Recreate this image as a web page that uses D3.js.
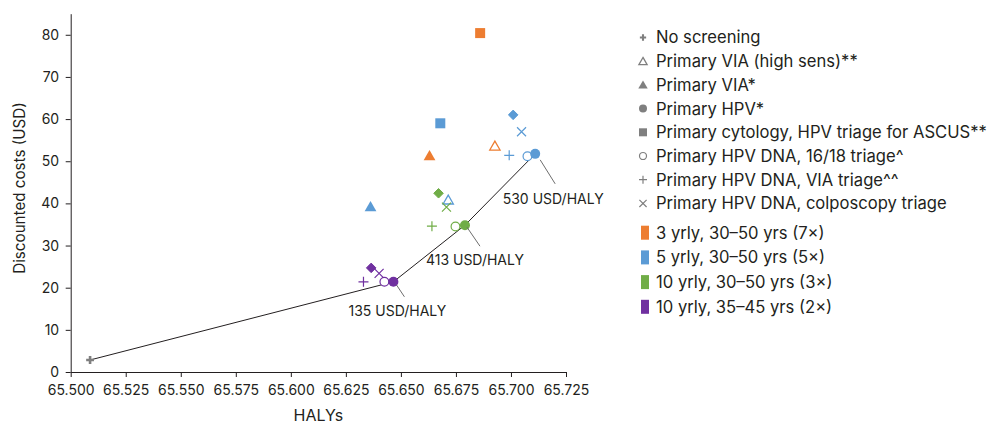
<!DOCTYPE html>
<html>
<head>
<meta charset="utf-8">
<script src="https://cdn.jsdelivr.net/npm/d3@7"></script>
<style>
  html, body { margin: 0; padding: 0; background: #fff; }
  svg text { font-family: Inter, "Noto Sans", sans-serif; fill: #231f20; }
</style>
</head>
<body>
<svg id="chart" width="995" height="427"></svg>
<script>
// Screening strategies (legend order) and their symbol keys
const strategyLabels = [
  "No screening",
  "Primary VIA (high sens)**",
  "Primary VIA*",
  "Primary HPV*",
  "Primary cytology, HPV triage for ASCUS**",
  "Primary HPV DNA, 16/18 triage^",
  "Primary HPV DNA, VIA triage^^",
  "Primary HPV DNA, colposcopy triage"
];
const strategyKeys = ["noScreen", "viaHigh", "via", "hpv", "cyto", "hpv1618", "hpvVia", "hpvColpo"];

// Screening schedules
const scheduleLabels = [
  "3 yrly, 30–50 yrs (7×)",
  "5 yrly, 30–50 yrs (5×)",
  "10 yrly, 30–50 yrs (3×)",
  "10 yrly, 35–45 yrs (2×)"
];

// Outcomes per schedule: strategy key, HALYs, discounted cost (USD)
const noScreenHaly = 65.5088, noScreenCost = 2.85;

const yr3Strategy = ["cyto", "via", "viaHigh"];
const yr3Haly = [65.6860, 65.6630, 65.6927];
const yr3Cost = [80.4, 51.3, 53.6];

const yr5Strategy = ["via", "cyto", "hpvAlt", "hpvColpo", "viaHigh", "hpvVia", "hpv1618", "hpv"];
const yr5Haly = [65.6362, 65.6679, 65.7010, 65.7048, 65.6715, 65.6992, 65.7075, 65.7110];
const yr5Cost = [39.2, 59.0, 61.0, 57.0, 40.8, 51.4, 51.2, 51.75];

const yr10Strategy = ["hpvAlt", "hpvColpo", "hpvVia", "hpv1618", "hpv"];
const yr10Haly = [65.6671, 65.6707, 65.6641, 65.6748, 65.6791];
const yr10Cost = [42.4, 39.1, 34.6, 34.5, 34.83];

const yr10nStrategy = ["hpvAlt", "hpvColpo", "hpvVia", "hpv1618", "hpv"];
const yr10nHaly = [65.6365, 65.6401, 65.6330, 65.6425, 65.6466];
const yr10nCost = [24.7, 23.4, 21.4, 21.4, 21.4];

// Efficiency frontier and its ICER labels
const frontierHaly = [noScreenHaly, 65.6466, 65.6791, 65.7110];
const frontierCost = [noScreenCost, 21.4, 34.83, 51.75];
const icerLabels = ["135 USD/HALY", "413 USD/HALY", "530 USD/HALY"];

// Axis ticks
const xTicks = [65.500, 65.525, 65.550, 65.575, 65.600, 65.625, 65.650, 65.675, 65.700, 65.725];
const yTicks = [0, 10, 20, 30, 40, 50, 60, 70, 80];

// ---- styling ----
const palette = ["#ED7D31", "#5B9BD5", "#70AD47", "#7030A0"];
const grey = "#7f7f7f";
const inkLine = "#231f20";

const svg = d3.select("#chart");

const x = d3.scaleLinear().domain([65.5, 65.725]).range([70.7, 566]);
const y = d3.scaleLinear().domain([0, 85]).range([372, 13.7]);

// axes
const xAxis = svg.append("g")
  .attr("transform", `translate(0,${y(0)})`)
  .call(d3.axisBottom(x).tickValues(xTicks).tickFormat(d3.format(".3f")).tickSize(5).tickSizeOuter(0));
const yAxis = svg.append("g")
  .attr("transform", `translate(${x(65.5)},0)`)
  .call(d3.axisLeft(y).tickValues(yTicks).tickFormat(d3.format("d")).tickSize(5).tickSizeOuter(0));

[xAxis, yAxis].forEach(g => {
  g.selectAll("path, line").attr("stroke", inkLine).attr("stroke-width", 1);
  g.selectAll("text").attr("font-size", 14).attr("fill", "#231f20")
    .style("font-family", "Inter, 'Noto Sans', sans-serif");
});
xAxis.selectAll("text").attr("dy", "1.05em");
yAxis.selectAll("text").attr("dx", "-0.25em");

svg.append("text").attr("x", (x(65.5) + x(65.725)) / 2).attr("y", 421)
  .attr("text-anchor", "middle").attr("font-size", 16).text("HALYs");
svg.append("text")
  .attr("transform", `translate(25,188) rotate(-90)`)
  .attr("text-anchor", "middle").attr("font-size", 15.2).text("Discounted costs (USD)");

// frontier line
const line = d3.line().x(d => x(d[0])).y(d => y(d[1]));
svg.append("path")
  .datum(frontierHaly.map((h, i) => [h, frontierCost[i]]))
  .attr("d", line).attr("fill", "none").attr("stroke", inkLine).attr("stroke-width", 1);

// symbol drawing
function drawSymbol(g, key, color, scale) {
  const s = scale || 1;
  switch (key) {
    case "noScreen":
      g.append("path").attr("d", d3.symbol(d3.symbolCross, 34 * s * s)()).attr("fill", color);
      break;
    case "viaHigh":
      g.append("path").attr("d", d3.symbol(d3.symbolTriangle, 46 * s * s)()).attr("transform", "translate(0,1)")
        .attr("fill", "#fff").attr("stroke", color).attr("stroke-width", 1.3);
      break;
    case "via":
      g.append("path").attr("d", d3.symbol(d3.symbolTriangle, 60 * s * s)()).attr("transform", "translate(0,1)")
        .attr("fill", color);
      break;
    case "hpv":
      g.append("circle").attr("r", 5 * s).attr("fill", color);
      break;
    case "cyto":
      g.append("rect").attr("x", -5 * s).attr("y", -5 * s).attr("width", 10 * s).attr("height", 10 * s).attr("fill", color);
      break;
    case "hpv1618":
      g.append("circle").attr("r", 4.4 * s).attr("fill", "#fff").attr("stroke", color).attr("stroke-width", 1.2);
      break;
    case "hpvVia": {
      const a = 5 * s;
      g.append("path").attr("d", `M${-a},0H${a}M0,${-a}V${a}`).attr("stroke", color).attr("stroke-width", 1.2).attr("fill", "none");
      break;
    }
    case "hpvColpo": {
      const a = 4.5 * s;
      g.append("path").attr("d", `M${-a},${-a}L${a},${a}M${-a},${a}L${a},${-a}`).attr("stroke", color).attr("stroke-width", 1.2).attr("fill", "none");
      break;
    }
    case "hpvAlt":
      g.append("path").attr("d", d3.symbol(d3.symbolDiamond2, 58 * s * s)()).attr("fill", color)
        .attr("stroke", color).attr("stroke-width", 1).attr("stroke-linejoin", "round");
      break;
  }
}

const markLayer = svg.append("g");
const groups = [
  [yr3Strategy, yr3Haly, yr3Cost],
  [yr5Strategy, yr5Haly, yr5Cost],
  [yr10Strategy, yr10Haly, yr10Cost],
  [yr10nStrategy, yr10nHaly, yr10nCost]
];
groups.forEach(([strat, haly, cost], gi) => {
  strat.forEach((k, i) => {
    const g = markLayer.append("g").attr("transform", `translate(${x(haly[i])},${y(cost[i])})`);
    drawSymbol(g, k, palette[gi]);
  });
});
drawSymbol(markLayer.append("g").attr("transform", `translate(${x(noScreenHaly)},${y(noScreenCost)})`), "noScreen", grey);

// ICER annotations, anchored to frontier points
const icerOffsets = [
  { l0: [3, 3], l1: [11, 15], t: [4, 34] },
  { l0: [2, 2], l1: [15, 21], t: [10, 40] },
  { l0: [5, 6], l1: [20, 30], t: [18, 50] }
];
icerLabels.forEach((lab, i) => {
  const px = x(frontierHaly[i + 1]), py = y(frontierCost[i + 1]);
  const o = icerOffsets[i];
  svg.append("line")
    .attr("x1", px + o.l0[0]).attr("y1", py + o.l0[1])
    .attr("x2", px + o.l1[0]).attr("y2", py + o.l1[1])
    .attr("stroke", "#6d6d6d").attr("stroke-width", 1);
  svg.append("text").attr("x", px + o.t[0]).attr("y", py + o.t[1])
    .attr("text-anchor", "middle").attr("font-size", 14).text(lab);
});

// legend: strategies
const legend = svg.append("g");
strategyLabels.forEach((lab, i) => {
  const cy = 37.5 + i * 23.7;
  drawSymbol(legend.append("g").attr("transform", `translate(643,${cy})`), strategyKeys[i], grey, 0.8);
  legend.append("text").attr("x", 656).attr("y", cy).attr("dy", "0.36em").attr("font-size", 16.6).text(lab);
});
// legend: schedules
scheduleLabels.forEach((lab, i) => {
  const cy = 232.7 + i * 24.7;
  legend.append("rect").attr("x", 641).attr("y", cy - 7).attr("width", 8).attr("height", 14).attr("fill", palette[i]);
  legend.append("text").attr("x", 656).attr("y", cy).attr("dy", "0.36em").attr("font-size", 16.6).text(lab);
});
</script>
</body>
</html>
